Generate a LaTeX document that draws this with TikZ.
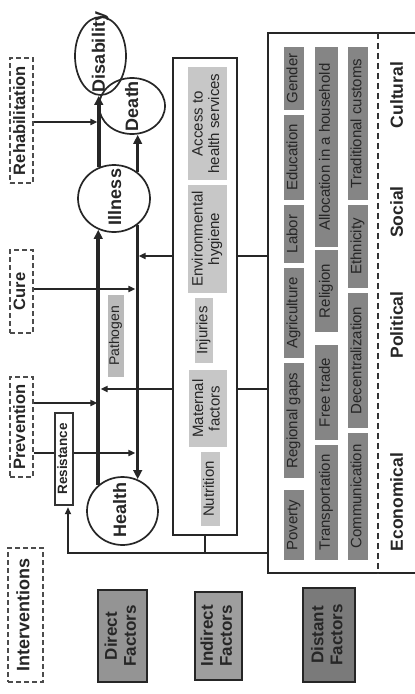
\documentclass[tikz,border=0pt]{standalone}
\usepackage{fontspec}
\setmainfont{Liberation Sans}
\usepackage{graphicx}
\usetikzlibrary{arrows.meta,shapes.geometric}
\newcommand{\rtxt}[1]{\rotatebox{90}{\begin{tabular}{@{}c@{}}#1\end{tabular}}}
\begin{document}
\begin{tikzpicture}[x=1pt,y=-1pt,
  bnode/.style={rectangle, inner sep=0pt, text=black!85, font=\fontsize{15}{16.5}\selectfont},
  sz/.style n args={2}{minimum width=#1pt, minimum height=#2pt},
  ivbox/.style={bnode, draw=black!70, line width=1.8pt, dash pattern=on 5pt off 3pt, font=\bfseries\fontsize{16.5}{18}\selectfont},
  darkbox/.style={bnode, fill=black!48},
  lightbox/.style={bnode, fill=black!22},
  catbox/.style={bnode, draw=black!85, line width=1.5pt, font=\bfseries\fontsize{17}{19}\selectfont},
  framebox/.style={bnode, draw=black!85, line width=1.8pt},
  stateell/.style={ellipse, draw=black!85, line width=1.7pt, inner sep=0pt},
  statetxt/.style={bnode, font=\bfseries\fontsize{18}{20}\selectfont},
  seclabel/.style={bnode, font=\bfseries\fontsize{17.5}{19}\selectfont},
  thk/.style={line width=3.6pt, draw=black!85, -{Triangle[length=9pt,width=8.5pt]}},
  thn/.style={line width=1.8pt, draw=black!85, -{Triangle[length=7pt,width=6pt]}, shorten >=1.6pt},
  plainline/.style={line width=1.8pt, draw=black!85},
]
\path[use as bounding box, fill=white] (0,0) rectangle (415,694);

% helper coordinates
\coordinate (xL) at (99,0);
\coordinate (xR) at (137,0);
\coordinate (xres) at (68,0);
\coordinate (xdash) at (378,0);
\coordinate (yrehab) at (0,122);
\coordinate (ycure) at (0,289);
\coordinate (yprevA) at (0,403);
\coordinate (yprevB) at (0,453);
\coordinate (yA) at (0,256);
\coordinate (yB) at (0,389);
\coordinate (ybot) at (0,553);

% interventions
\node[ivbox, sz={23}{125}] (rehab) at (21.5,120.5) {\rtxt{Rehabilitation}};
\node[ivbox, sz={23}{83}] (cure) at (21.5,291.5) {\rtxt{Cure}};
\node[ivbox, sz={23}{100}] (prev) at (21.5,427) {\rtxt{Prevention}};

% frames
\node[framebox, sz={64}{477}] (indbox) at (205,296.5) {};
\node[bnode, sz={147}{540}] (distbox) at (341.5,303) {};
\draw[plainline] (distbox.north east) -- (distbox.north west) -- (distbox.south west) -- (distbox.south east);
\draw[line width=1.8pt, draw=black!80, dash pattern=on 6pt off 4pt] (xdash |- distbox.north) -- (xdash |- distbox.south);

% states
\node[stateell, sz={51}{78}] (dis) at (100.5,56) {};
\node[stateell, sz={66}{56}] (death) at (132,106) {};
\node[stateell, sz={72}{67}] (ill) at (114,198.5) {};
\node[stateell, sz={71}{68}] (health) at (122.5,511) {};
\node[statetxt] (distxt) at (101,52) {\rtxt{Disability}};
\node[statetxt] (deathtxt) at (134,106) {\rtxt{Death}};
\node[statetxt] (illtxt) at (117,197) {\rtxt{Illness}};
\node[statetxt] (healthtxt) at (122,510) {\rtxt{Health}};

% main transitions
\draw[thk] (health.133) -- (health.133 |- ill.244);
\draw[thk] (ill.312) -- (ill.312 |- health.65);
\draw[thk] (ill.116) -- (ill.116 |- dis.south);
\draw[thk] (ill.48) -- (ill.48 |- death.south);

% interventions arrows
\draw[thn] (rehab.east |- yrehab) -- (xL |- yrehab);
\draw[thn] (cure.east |- ycure) -- (xR |- ycure);
\draw[thn] (prev.east |- yprevA) -- (xL |- yprevA);
\draw[thn] (prev.east |- yprevB) -- (xR |- yprevB);

% factor links
\draw[thn] (indbox.west |- yA) -- (xR |- yA);
\draw[thn] (indbox.west |- yB) -- (xL |- yB);
\draw[plainline] (distbox.west |- yA) -- (indbox.east |- yA);
\draw[plainline] (distbox.west |- yB) -- (indbox.east |- yB);
\draw[plainline] (indbox.south) -- (indbox.south |- ybot);

% resistance and pathogen
\node[bnode, draw=black!80, line width=1.2pt, fill=white, sz={18}{92}, font=\bfseries\fontsize{13.5}{15}\selectfont] (res) at (64,459) {\rtxt{Resistance}};
\draw[thn] (distbox.west |- ybot) -| (xres |- res.south);
\node[bnode, fill=black!27, sz={16}{82}, font=\fontsize{14}{15}\selectfont] (path) at (116,336) {\rtxt{Pathogen}};

% indirect factors
\node[lightbox, sz={39}{113}] (access) at (207.5,123.5) {\rtxt{Access to\\health services}};
\node[lightbox, sz={39}{108}] (env) at (207.5,239) {\rtxt{Environmental\\hygiene}};
\node[lightbox, sz={18}{65}] (inj) at (204,330.5) {\rtxt{Injuries}};
\node[lightbox, sz={38}{77}] (mat) at (208,408.5) {\rtxt{Maternal\\factors}};
\node[lightbox, sz={19}{74}] (nut) at (210.5,489) {\rtxt{Nutrition}};

% distant factors column 1
\node[darkbox, sz={20}{63}] (gender) at (294,78.5) {\rtxt{Gender}};
\node[darkbox, sz={20}{85}] (educ) at (294,157.5) {\rtxt{Education}};
\node[darkbox, sz={20}{58}] (labor) at (294,234) {\rtxt{Labor}};
\node[darkbox, sz={20}{90}] (agri) at (294,313) {\rtxt{Agriculture}};
\node[darkbox, sz={20}{115}] (regional) at (294,420.5) {\rtxt{Regional gaps}};
\node[darkbox, sz={20}{70}] (poverty) at (294,525) {\rtxt{Poverty}};
% column 2
\node[darkbox, sz={23}{200}] (alloc) at (326.5,147) {\rtxt{Allocation in a household}};
\node[darkbox, sz={23}{82}] (relig) at (326.5,291) {\rtxt{Religion}};
\node[darkbox, sz={23}{95}] (trade) at (326.5,392.5) {\rtxt{Free trade}};
\node[darkbox, sz={23}{115}] (transp) at (326.5,502.5) {\rtxt{Transportation}};
% column 3
\node[darkbox, sz={20}{153}] (trad) at (358,123.5) {\rtxt{Traditional customs}};
\node[darkbox, sz={20}{83}] (ethn) at (358,246.5) {\rtxt{Ethnicity}};
\node[darkbox, sz={20}{135}] (decen) at (358,360.5) {\rtxt{Decentralization}};
\node[darkbox, sz={20}{127}] (comm) at (358,496.5) {\rtxt{Communication}};

% section labels
\node[seclabel] (cult) at (399,95) {\rtxt{Cultural}};
\node[seclabel] (soc) at (399,212) {\rtxt{Social}};
\node[seclabel] (pol) at (399,325) {\rtxt{Political}};
\node[seclabel] (econ) at (399,502) {\rtxt{Economical}};

% legend boxes
\node[ivbox, sz={35}{134}, font=\bfseries\fontsize{18}{20}\selectfont] (interv) at (25.5,615) {\rtxt{Interventions}};
\node[catbox, fill=black!42, sz={49}{92}] (direct) at (122.5,636) {\rtxt{Direct\\Factors}};
\node[catbox, fill=black!38, sz={47}{88}] (indirect) at (218.5,636) {\rtxt{Indirect\\Factors}};
\node[catbox, fill=black!52, sz={52}{94}] (distant) at (329,635) {\rtxt{Distant\\Factors}};
\end{tikzpicture}
\end{document}
